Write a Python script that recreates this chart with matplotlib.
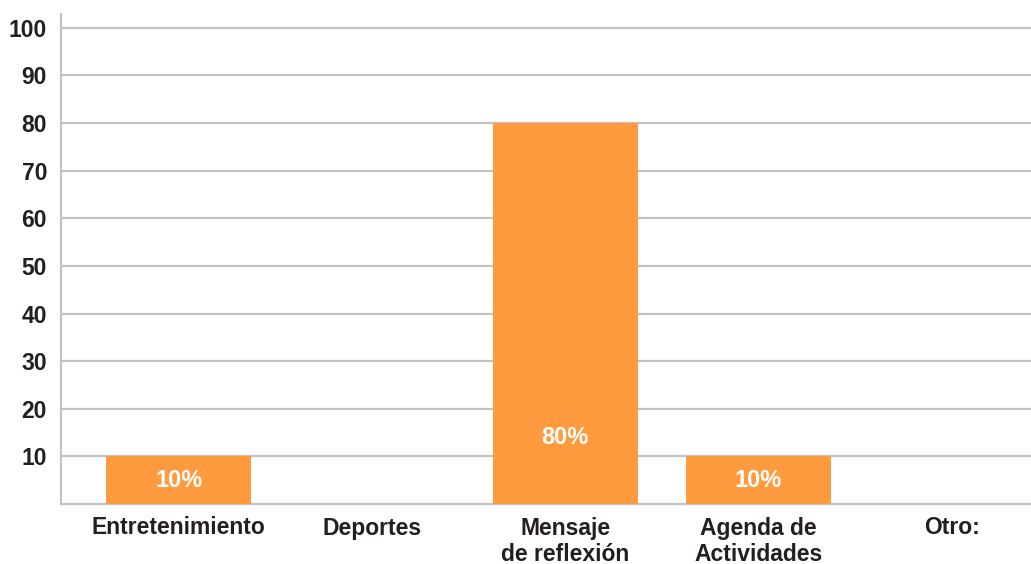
import matplotlib.pyplot as plt
import numpy as np

# datos del gráfico
categorias = ['Entretenimiento', 'Deportes', 'Mensaje\nde reflexión', 'Agenda de\nActividades', 'Otro:']
valores = [10, 0, 80, 10, 0]
etiquetas = ['10%', '', '80%', '10%', '']
pos_etiqueta = [5, 0, 14, 5, 0]
yticks = [10, 20, 30, 40, 50, 60, 70, 80, 90, 100]

naranja = '#FF9A3E'
gris = '#C2C2C6'
texto = '#231F20'

plt.rcParams['font.family'] = ['Liberation Sans', 'DejaVu Sans']

fig = plt.figure(figsize=(10.31, 5.64), dpi=100)
ax = fig.add_axes([61 / 1031, 60 / 564, 1 - 61 / 1031, 490 / 564])

x = np.arange(len(categorias))
ax.bar(x, valores, width=0.75, color=naranja, zorder=3)

for xi, txt, yi in zip(x, etiquetas, pos_etiqueta):
    if txt:
        ax.text(xi, yi, txt, ha='center', va='center', color='white',
                fontsize=17, fontweight='bold', zorder=4)

ax.set_xlim(-0.61, 4.41)
ax.set_ylim(0, 102.9)
ax.set_yticks(yticks)
ax.set_yticklabels([str(t) for t in yticks])
ax.set_xticks(x)
ax.set_xticklabels(categorias, linespacing=1.18)

ax.yaxis.grid(True, color=gris, linewidth=1.6, zorder=0)
ax.tick_params(axis='both', length=0, labelsize=16.5, labelcolor=texto)
ax.tick_params(axis='y', pad=10)
ax.tick_params(axis='x', pad=9)
for lab in ax.get_xticklabels() + ax.get_yticklabels():
    lab.set_fontweight('bold')

for s in ['top', 'right']:
    ax.spines[s].set_visible(False)
for s in ['left', 'bottom']:
    ax.spines[s].set_color(gris)
    ax.spines[s].set_linewidth(1.6)

fig.savefig('out.png', dpi=100)
